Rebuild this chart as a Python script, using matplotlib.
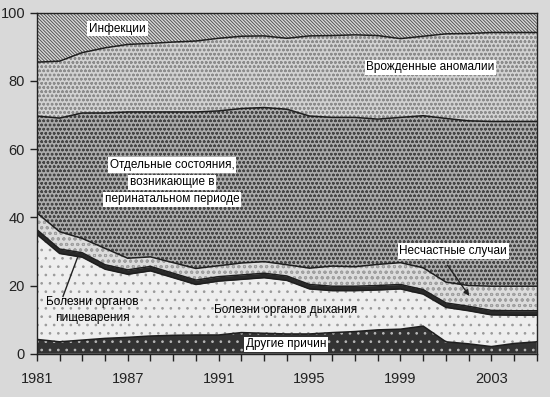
import matplotlib

matplotlib.use("Agg")
import matplotlib.pyplot as plt
import numpy as np

plt.rcParams["font.family"] = ["Liberation Sans", "DejaVu Sans"]
plt.rcParams["hatch.linewidth"] = 0.7

# categorical x positions, labelled only at a few years
years = [1981, 1983, 1985, 1986, 1987, 1988, 1989, 1990, 1991, 1992, 1993, 1994,
         1995, 1996, 1997, 1998, 1999, 2000, 2001, 2002, 2003, 2004, 2005]
label_years = [1981, 1987, 1991, 1995, 1999, 2003]

# shares of causes, % (bottom to top)
other = [4.2, 3.5, 4.0, 4.5, 4.8, 5.2, 5.4, 5.5, 5.5, 6.2, 6.0, 5.8,
         5.8, 6.2, 6.5, 7.0, 7.2, 8.1, 3.5, 2.9, 2.1, 3.0, 3.5]
respiratory = [30.8, 25.9, 24.3, 20.3, 18.5, 19.1, 16.9, 14.8, 15.8, 15.6, 16.3, 15.7,
               13.2, 12.3, 12.0, 11.7, 11.8, 9.4, 10.1, 9.7, 9.3, 8.3, 7.8]
digestive = [1.4, 1.3, 1.3, 1.3, 1.3, 1.3, 1.3, 1.3, 1.3, 1.3, 1.3, 1.3,
             1.3, 1.3, 1.3, 1.3, 1.3, 1.3, 1.3, 1.3, 1.3, 1.3, 1.3]
accidents = [4.9, 5.1, 4.2, 4.8, 3.4, 2.8, 3.1, 3.4, 3.2, 3.5, 3.4, 3.3,
             4.8, 5.9, 5.7, 6.2, 6.4, 6.4, 6.1, 6.1, 7.1, 7.2, 7.2]
perinatal = [28.4, 33.3, 36.8, 39.7, 42.9, 42.5, 44.2, 45.9, 45.4, 45.3, 45.2, 45.6,
             44.6, 43.6, 43.8, 42.6, 42.6, 44.6, 48.0, 48.3, 48.3, 48.3, 48.3]
congenital = [15.8, 16.7, 17.7, 19.1, 19.8, 20.1, 20.5, 20.8, 21.3, 21.2, 21.0, 20.8,
              23.5, 24.0, 24.2, 24.5, 23.1, 23.3, 24.8, 25.6, 26.1, 26.1, 26.1]
infections = [14.5, 14.1, 11.6, 10.2, 9.2, 8.9, 8.5, 8.2, 7.5, 6.9, 6.8, 7.5,
              6.8, 6.8, 6.6, 6.8, 7.7, 7.0, 6.3, 6.2, 5.9, 5.9, 5.9]

layers = [
    (other, "#333333", "..", "#b8b8b8"),
    (respiratory, "#eeeeee", "..", "#9a9a9a"),
    (digestive, "#2a2a2a", None, "#2a2a2a"),
    (accidents, "#dcdcdc", "ooo", "#a0a0a0"),
    (perinatal, "#ababab", "oooo", "#474747"),
    (congenital, "#d2d2d2", "oooo", "#8c8c8c"),
    (infections, "#dadada", "\\" * 10, "#555555"),
]

x = np.arange(len(years))
bg = "#d9d9d9"

fig = plt.figure(figsize=(5.5, 3.97), dpi=100, facecolor=bg)
ax = fig.add_axes([0.067, 0.109, 0.909, 0.859])
ax.set_facecolor(bg)

base = np.zeros(len(years))
for values, face, hatch, hcolor in layers:
    top = base + np.array(values)
    ax.fill_between(x, base, top, facecolor=face, edgecolor=hcolor,
                    hatch=hatch, linewidth=0)
    ax.plot(x, top, color="#1e1e1e", lw=1.1)
    base = top

ax.set_xlim(0, len(years) - 1)
ax.set_ylim(0, 100)
ax.set_xticks(x, minor=True)
ax.set_xticks([years.index(y) for y in label_years])
ax.set_xticklabels([str(y) for y in label_years])
ax.set_yticks([0, 20, 40, 60, 80, 100])
ax.tick_params(axis="both", which="both", direction="out", length=5,
               width=1, colors="#222222", labelsize=10.5)
ax.tick_params(axis="x", pad=8)
for s in ax.spines.values():
    s.set_color("#222222")
    s.set_linewidth(1)

box = dict(facecolor="white", edgecolor="none", pad=1.2)
fs = 8.5
ax.text(2.3, 95.3, "Инфекции", fontsize=fs, va="center", ha="left", bbox=box)
ax.text(14.5, 84.0, "Врожденные аномалии", fontsize=fs, va="center", ha="left", bbox=box)
ax.text(5.95, 55.3, "Отдельные состояния,", fontsize=fs, va="center", ha="center", bbox=box)
ax.text(5.95, 50.3, "возникающие в", fontsize=fs, va="center", ha="center", bbox=box)
ax.text(5.95, 45.3, "перинатальном периоде", fontsize=fs, va="center", ha="center", bbox=box)
ax.text(15.95, 30.1, "Несчастные случаи", fontsize=fs, va="center", ha="left", bbox=box)
ax.annotate("", xy=(19.1, 16.3), xytext=(18.0, 26.6),
            arrowprops=dict(arrowstyle="-|>", color="#222222", lw=1, mutation_scale=8))
ax.text(2.45, 15.2, "Болезни органов", fontsize=fs, va="center", ha="center")
ax.text(2.45, 10.5, "пищеварения", fontsize=fs, va="center", ha="center")
ax.plot([1.15, 1.8], [16.8, 28.4], color="#222222", lw=1)
ax.text(10.95, 12.8, "Болезни органов дыхания", fontsize=fs, va="center", ha="center")
ax.text(9.2, 2.8, "Другие причин", fontsize=fs, va="center", ha="left", bbox=box)

fig.savefig("out.png", dpi=100, facecolor=bg)
